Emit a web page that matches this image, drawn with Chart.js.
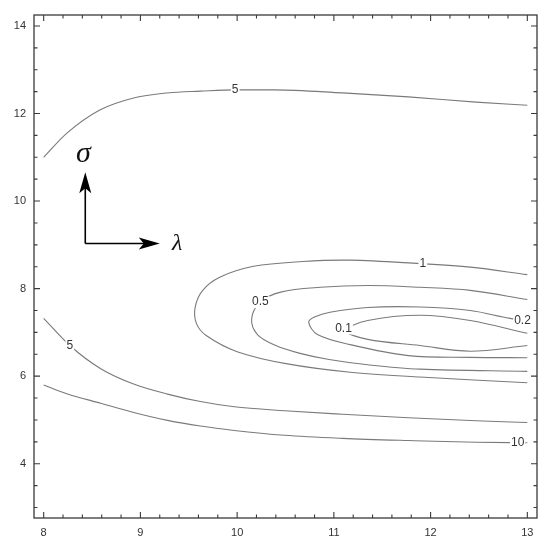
<!DOCTYPE html>
<html><head><meta charset="utf-8">
<script src="https://cdn.jsdelivr.net/npm/chart.js@4/dist/chart.umd.min.js"></script>
<style>html,body{margin:0;padding:0;background:#fff;}</style>
</head><body>
<canvas id="c" width="550" height="549" style="width:550px;height:549px;display:block"></canvas>
<script>
// Axis ticks
const xTicks = [8, 9, 10, 11, 12, 13];
const yTicks = [4, 6, 8, 10, 12, 14];
const xMinorStep = 0.2;
const yMinorStep = 0.5;

// Contour level "5" (upper branch)
const c5aX = [8.0, 8.24, 8.58, 8.92, 9.28, 9.62, 9.98, 10.39, 11.09, 11.77, 12.47, 13.0];
const c5aY = [11.0, 11.55, 12.08, 12.35, 12.47, 12.51, 12.54, 12.54, 12.47, 12.38, 12.26, 12.19];
// Contour level "5" (lower branch)
const c5bX = [8.0, 8.27, 8.59, 8.93, 9.28, 9.62, 9.97, 10.49, 11.09, 11.77, 12.47, 13.0];
const c5bY = [7.32, 6.70, 6.17, 5.82, 5.59, 5.42, 5.30, 5.21, 5.13, 5.05, 4.98, 4.94];
// Contour level "10"
const c10X = [8.0, 8.24, 8.59, 8.93, 9.28, 9.62, 9.97, 10.49, 11.09, 11.77, 12.47, 13.0];
const c10Y = [5.80, 5.60, 5.38, 5.17, 4.99, 4.86, 4.76, 4.65, 4.58, 4.53, 4.49, 4.48];
// Contour level "1"
const c1X = [13.0, 12.41, 11.89, 11.17, 10.68, 10.17, 9.82, 9.64, 9.565, 9.58, 9.68, 10.0, 10.52, 11.17, 11.89, 13.0];
const c1Y = [8.32, 8.49, 8.57, 8.65, 8.62, 8.51, 8.26, 7.95, 7.56, 7.20, 6.93, 6.56, 6.28, 6.09, 5.98, 5.85];
// Contour level "0.5"
const c05X = [13.0, 12.41, 11.89, 11.35, 10.86, 10.45, 10.24, 10.15, 10.21, 10.40, 10.65, 10.95, 11.35, 11.89, 13.0];
const c05Y = [7.75, 7.96, 8.03, 8.07, 8.03, 7.92, 7.69, 7.31, 6.95, 6.70, 6.52, 6.38, 6.26, 6.16, 6.11];
// Contour level "0.2"
const c02X = [13.0, 12.82, 12.41, 11.89, 11.35, 10.96, 10.80, 10.74, 10.83, 11.17, 11.77, 12.41, 13.0];
const c02Y = [7.27, 7.32, 7.50, 7.58, 7.57, 7.46, 7.35, 7.23, 6.95, 6.72, 6.47, 6.43, 6.42];
// Contour level "0.1"
const c01X = [13.0, 12.41, 11.89, 11.35, 11.12, 11.35, 11.89, 12.41, 13.0];
const c01Y = [6.98, 7.27, 7.39, 7.27, 7.04, 6.84, 6.70, 6.57, 6.70];

// Contour labels
const labelText = ['5', '5', '10', '1', '0.5', '0.1', '0.2'];
const labelX = [9.98, 8.27, 12.90, 11.92, 10.24, 11.10, 12.95];
const labelY = [12.54, 6.70, 4.48, 8.58, 7.69, 7.09, 7.27];

// Direction arrows (origin, λ tip, σ tip) and their symbols
const arrowX = [8.43, 9.20, 8.43];
const arrowY = [9.03, 9.03, 10.66];
const symbolText = ['σ', 'λ'];
const symbolX = [8.41, 9.38];
const symbolY = [11.07, 9.03];

function pts(xs, ys) { return xs.map((x, i) => ({x: x, y: ys[i]})); }
function openDs(xs, ys) {
  return {data: pts(xs, ys), showLine: true, borderColor: '#7a7a7a', borderWidth: 1.1,
          pointRadius: 0, cubicInterpolationMode: 'monotone', fill: false};
}
function loopDs(xs, ys) {
  return {data: pts(xs, ys), showLine: true, borderColor: '#7a7a7a', borderWidth: 1.1,
          pointRadius: 0, tension: 0.35, fill: false};
}

const decor = {
  id: 'decor',
  afterDatasetsDraw(chart) {
    const ctx = chart.ctx, xs = chart.scales.x, ys = chart.scales.y, a = chart.chartArea;
    ctx.save();
    // contour labels with white background
    ctx.font = '12px "Liberation Sans", Arial, sans-serif';
    ctx.textAlign = 'center'; ctx.textBaseline = 'middle';
    labelText.forEach((t, i) => {
      const px = xs.getPixelForValue(labelX[i]), py = ys.getPixelForValue(labelY[i]);
      const w = ctx.measureText(t).width;
      ctx.fillStyle = '#fff';
      ctx.fillRect(px - w / 2 - 1, py - 6, w + 2, 12);
      ctx.fillStyle = '#333';
      ctx.fillText(t, px, py);
    });
    // arrows
    const ox = xs.getPixelForValue(arrowX[0]), oy = ys.getPixelForValue(arrowY[0]);
    const hx = xs.getPixelForValue(arrowX[1]), hy = ys.getPixelForValue(arrowY[1]);
    const vx = xs.getPixelForValue(arrowX[2]), vy = ys.getPixelForValue(arrowY[2]);
    ctx.strokeStyle = '#000'; ctx.fillStyle = '#000'; ctx.lineWidth = 1.6;
    ctx.beginPath(); ctx.moveTo(ox, oy); ctx.lineTo(hx - 12, hy); ctx.stroke();
    ctx.beginPath(); ctx.moveTo(ox, oy); ctx.lineTo(vx, vy + 12); ctx.stroke();
    ctx.beginPath();
    ctx.moveTo(hx, hy); ctx.lineTo(hx - 21, hy - 6); ctx.lineTo(hx - 16, hy); ctx.lineTo(hx - 21, hy + 6); ctx.closePath(); ctx.fill();
    ctx.beginPath();
    ctx.moveTo(vx, vy); ctx.lineTo(vx - 6, vy + 21); ctx.lineTo(vx, vy + 16); ctx.lineTo(vx + 6, vy + 21); ctx.closePath(); ctx.fill();
    // symbols
    ctx.fillStyle = '#111';
    ctx.font = 'italic 30px "Liberation Serif", "DejaVu Serif", serif';
    ctx.fillText(symbolText[0], xs.getPixelForValue(symbolX[0]), ys.getPixelForValue(symbolY[0]));
    ctx.font = 'italic 24px "Liberation Serif", "DejaVu Serif", serif';
    ctx.fillText(symbolText[1], xs.getPixelForValue(symbolX[1]), ys.getPixelForValue(symbolY[1]));
    // frame
    ctx.strokeStyle = '#3a3a3a'; ctx.lineWidth = 1.3;
    ctx.strokeRect(a.left, a.top, a.right - a.left, a.bottom - a.top);
    // ticks (inward, all four sides)
    ctx.lineWidth = 1.1;
    ctx.beginPath();
    const xMaj = 6, xMin = 3.5;
    for (let i = 0; i < xTicks.length; i++) {
      const v = xTicks[i];
      const p = xs.getPixelForValue(v);
      ctx.moveTo(p, a.bottom); ctx.lineTo(p, a.bottom - xMaj);
      ctx.moveTo(p, a.top); ctx.lineTo(p, a.top + xMaj);
      if (i < xTicks.length - 1) {
        for (let k = 1; k * xMinorStep < 1 - 1e-9; k++) {
          const q = xs.getPixelForValue(v + k * xMinorStep);
          ctx.moveTo(q, a.bottom); ctx.lineTo(q, a.bottom - xMin);
          ctx.moveTo(q, a.top); ctx.lineTo(q, a.top + xMin);
        }
      }
    }
    for (let v = yTicks[0] - 1; v <= yTicks[yTicks.length - 1] + 1e-9; v += yMinorStep) {
      if (v < ys.min || v > ys.max) continue;
      const p = ys.getPixelForValue(v);
      const major = yTicks.includes(Math.round(v * 100) / 100);
      const L = major ? xMaj : xMin;
      ctx.moveTo(a.left, p); ctx.lineTo(a.left + L, p);
      ctx.moveTo(a.right, p); ctx.lineTo(a.right - L, p);
    }
    ctx.stroke();
    ctx.restore();
  }
};

new Chart(document.getElementById('c'), {
  type: 'scatter',
  data: {datasets: [openDs(c5aX, c5aY), openDs(c5bX, c5bY), openDs(c10X, c10Y), loopDs(c1X, c1Y), loopDs(c05X, c05Y), loopDs(c02X, c02Y), loopDs(c01X, c01Y)]},
  options: {
    responsive: false, animation: false, devicePixelRatio: 1,
    layout: {padding: {left: 0, top: 15, right: 13, bottom: 0}},
    plugins: {legend: {display: false}, tooltip: {enabled: false}},
    scales: {
      x: {type: 'linear', min: 7.9, max: 13.1,
          grid: {display: false, drawTicks: false}, border: {display: false},
          afterBuildTicks: s => { s.ticks = xTicks.map(v => ({value: v})); },
          afterFit: s => { s.height = 31; },
          ticks: {padding: 8, color: '#333', font: {family: '"Liberation Sans", Arial, sans-serif', size: 11}, maxRotation: 0,
                  callback: v => String(v)}},
      y: {type: 'linear', min: 2.76, max: 14.25,
          grid: {display: false, drawTicks: false}, border: {display: false},
          afterBuildTicks: s => { s.ticks = yTicks.map(v => ({value: v})); },
          afterFit: s => { s.width = 34; },
          ticks: {padding: 8, color: '#333', font: {family: '"Liberation Sans", Arial, sans-serif', size: 11},
                  callback: v => String(v)}}
    }
  },
  plugins: [decor]
});
</script>
</body></html>
